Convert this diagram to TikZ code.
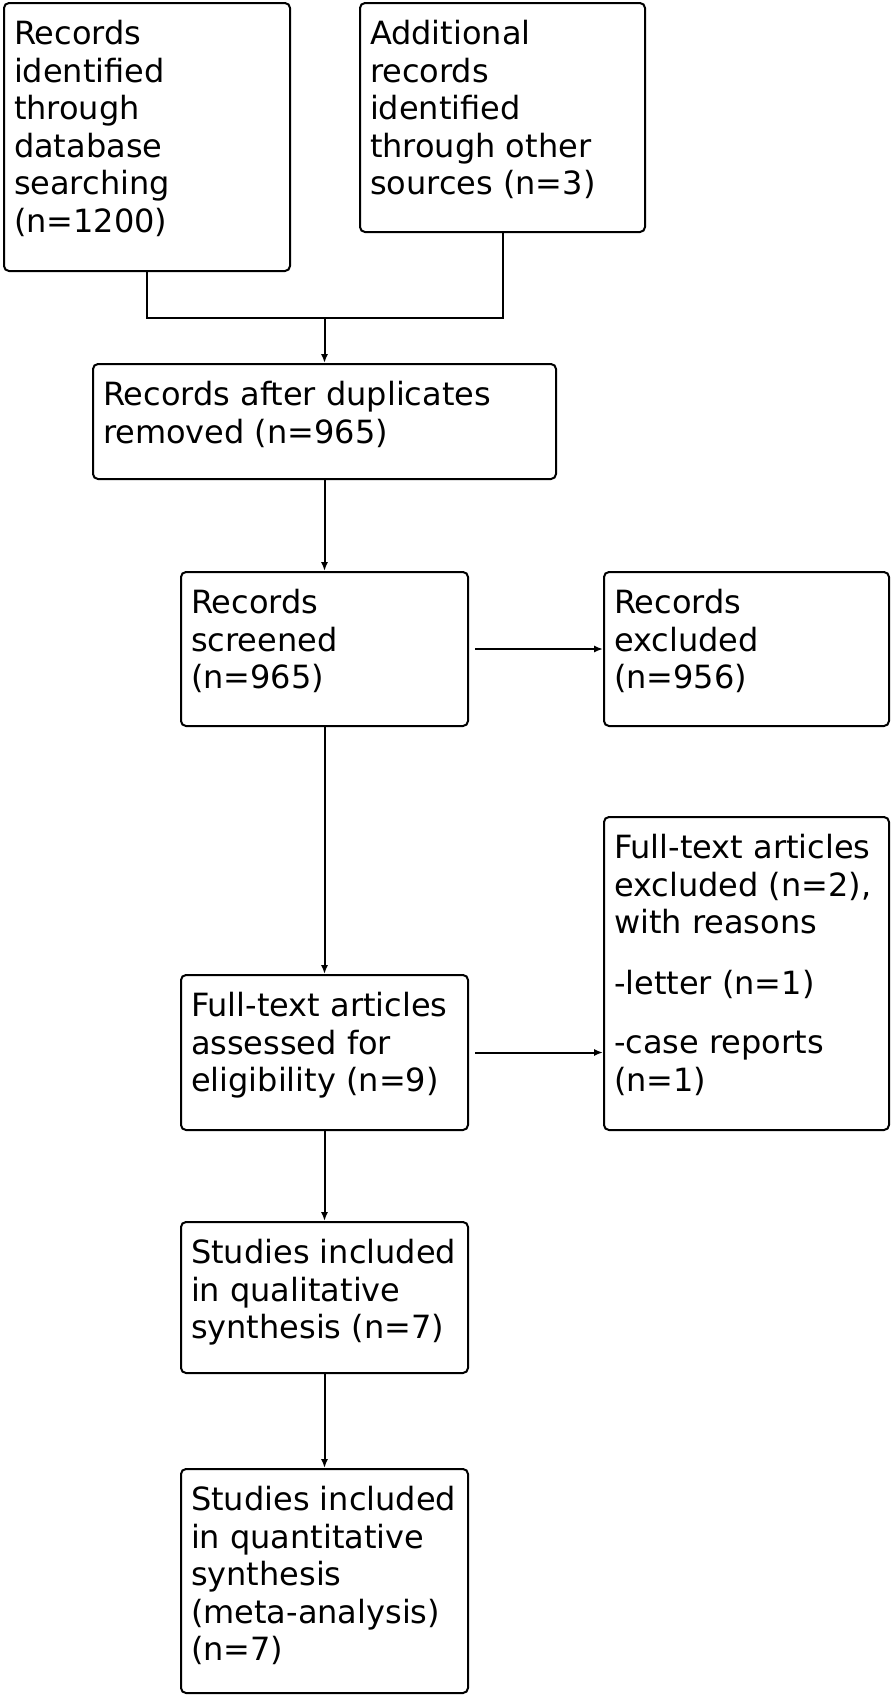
\documentclass[tikz,border=0pt]{standalone}
\usepackage{fontspec}
\setmainfont{DejaVu Sans}
\usepackage{tikz}
\usetikzlibrary{arrows.meta}
\tikzstyle{stage}=[
        draw, line width=1pt, rounded corners=2.5pt, inner sep=5pt,
        font=\fontsize{16}{18.8}\selectfont
]
\tikzstyle{flow}=[
        line width=1pt, -{Latex[length=4.5pt,width=3.6pt]}
]
\newcommand{\boxtext}[3]{\parbox[t][#2][t]{#1}{\raggedright\rule{0pt}{15.7pt}#3}}

\begin{document}
\begin{tikzpicture}[x=0.5pt,y=-0.5pt]
                        \useasboundingbox (0,0) rectangle (893,1704);

                        \node[stage] (records) at (147,137) {\boxtext{133pt}{124pt}{Records\\identified\\through\\database\\searching\\(n=1200)}};
                        \node[stage] (other) at (502.5,117.5) {\boxtext{132.5pt}{104.5pt}{Additional\\records\\identified\\through other\\sources (n=3)}};
                        \node[stage] (dedup) at (324.5,421.5) {\boxtext{221.5pt}{47.5pt}{Records after duplicates\\removed (n=965)}};

                        \node[stage] (screened) at (324.5,649) {\boxtext{133.5pt}{67pt}{Records\\screened\\(n=965)}};
                        \node[stage] (excluded) at (746.5,649) {\boxtext{132.5pt}{67pt}{Records\\excluded\\(n=956)}};

                        \node[stage] (fulltext) at (324.5,1052.5) {\boxtext{133.5pt}{67.5pt}{Full-text articles\\assessed for\\eligibility (n=9)}};
                        \node[stage] (ftexcl) at (746.5,973.5) {\boxtext{132.5pt}{146.5pt}{Full-text articles\\excluded (n=2),\\with reasons\\[11.5pt]-letter (n=1)\\[11pt]-case reports\\(n=1)}};

                        \node[stage] (qual) at (324.5,1297.5) {\boxtext{133.5pt}{65.5pt}{Studies included\\in qualitative\\synthesis (n=7)}};
                        \node[stage] (quant) at (324.5,1581) {\boxtext{133.5pt}{102pt}{Studies included\\in quantitative\\synthesis\\(meta-analysis)\\(n=7)}};

                        \coordinate (join) at (324.5,318);
                        \draw[line width=1pt] (records.south) |- (join) -| (other.south);
                        \draw[flow] (join) -- (dedup.north);
                        \draw[flow] (dedup) -- (screened);
                        \draw[flow, shorten <=3pt] (screened.east) -- (excluded.west);
                        \draw[flow] (screened) -- (fulltext);
                        \draw[flow, shorten <=3pt] (fulltext.east) -- (fulltext.east -| ftexcl.west);
                        \draw[flow] (fulltext) -- (qual);
                        \draw[flow] (qual) -- (quant);
                    \end{tikzpicture}
\end{document}
